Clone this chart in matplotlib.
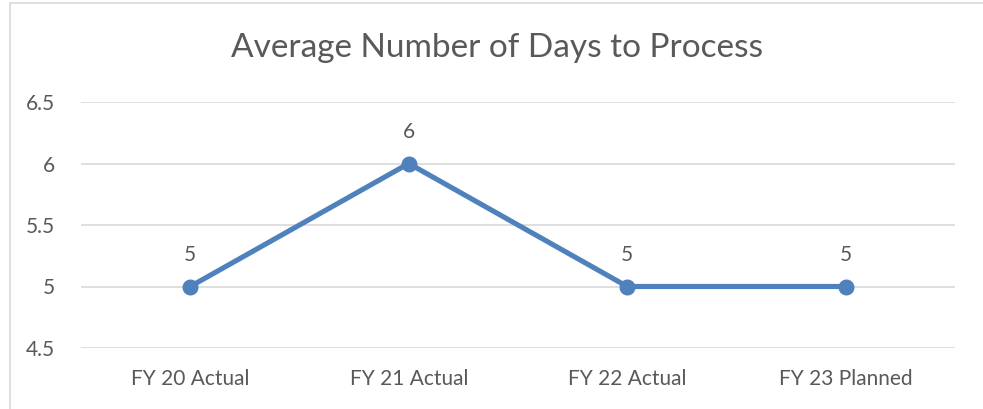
import matplotlib.pyplot as plt
from matplotlib.patches import Rectangle

# datos del grafico
categories = ["FY 20 Actual", "FY 21 Actual", "FY 22 Actual", "FY 23 Planned"]
days = [5, 6, 5, 5]
yticks = [4.5, 5, 5.5, 6, 6.5]

plt.rcParams["font.family"] = ["Lato", "DejaVu Sans"]
gray = "#595959"
blue = "#4F81BD"

fig = plt.figure(figsize=(9.83, 4.09), dpi=100)
ax = fig.add_axes([81 / 983, 1 - 348 / 409, (955 - 81) / 983, (348 - 102) / 409])

x = list(range(len(categories)))
ax.plot(x, days, color=blue, linewidth=3.7, marker="o", markersize=10.5,
        solid_capstyle="round", zorder=3)
for xi, v in zip(x, days):
    ax.annotate(str(v), (xi, v), xytext=(0, 23), textcoords="offset points",
                ha="center", va="center", fontsize=15, color=gray)

ax.set_xlim(-0.5, len(categories) - 0.5)
ax.set_ylim(4.5, 6.5)
ax.set_yticks(yticks)
ax.set_yticklabels([f"{t:g}" for t in yticks])
ax.set_xticks(x)
ax.set_xticklabels(categories)
ax.tick_params(axis="both", length=0, labelsize=15, colors=gray)
ax.tick_params(axis="y", pad=19)
ax.tick_params(axis="x", pad=15)
ax.grid(axis="y", color="#D9D9D9", linewidth=1.2)
ax.set_axisbelow(True)
for s in ax.spines.values():
    s.set_visible(False)

fig.text(497 / 983, 1 - 48 / 409, "Average Number of Days to Process",
         ha="center", va="center", fontsize=24, color=gray)

# borde del grafico
fig.patches.append(Rectangle((10 / 983, -0.1), 1.1, 1 - 3 / 409 + 0.1,
                             transform=fig.transFigure, fill=False,
                             edgecolor="#D9D9D9", linewidth=1.2))

fig.savefig("out.png", dpi=100)
